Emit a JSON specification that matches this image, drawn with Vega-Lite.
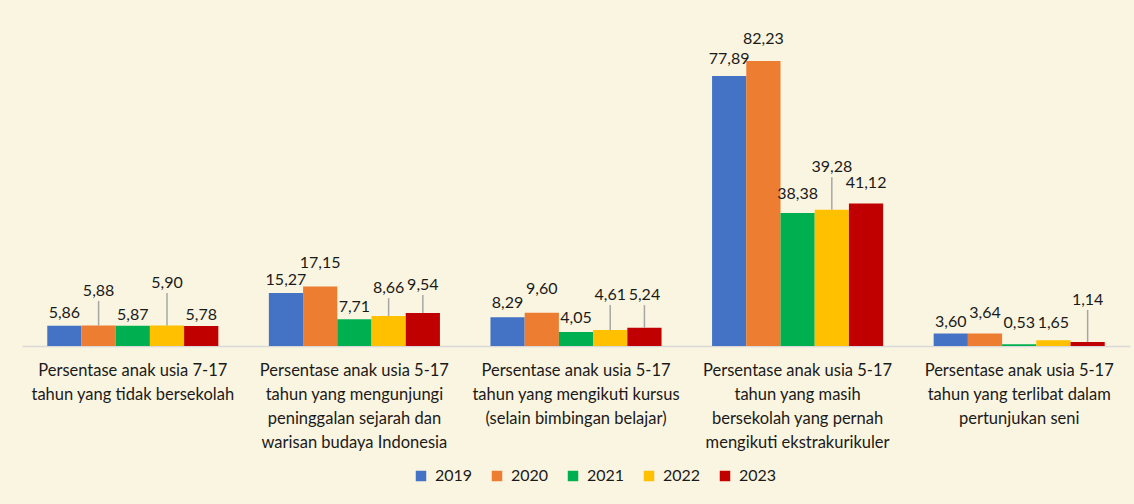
{
  "$schema": "https://vega.github.io/schema/vega-lite/v6.json",
  "width": 1108,
  "height": 312,
  "autosize": {"type": "none"},
  "padding": {"left": 22, "top": 34, "right": 4, "bottom": 158},
  "background": "#FAF5E0",
  "config": {
    "view": {"stroke": null},
    "font": "Lato",
    "locale": {"number": {"decimal": ",", "thousands": ".", "grouping": [3], "currency": ["Rp", ""]}}
  },
  "data": {
    "values": [
      {"kategori": "Persentase anak usia 7-17|tahun yang tidak bersekolah", "tahun": "2019", "nilai": 5.86, "label_y": 9.5, "leader": false},
      {"kategori": "Persentase anak usia 7-17|tahun yang tidak bersekolah", "tahun": "2020", "nilai": 5.88, "label_y": 15.9, "leader": true},
      {"kategori": "Persentase anak usia 7-17|tahun yang tidak bersekolah", "tahun": "2021", "nilai": 5.87, "label_y": 8.9, "leader": false},
      {"kategori": "Persentase anak usia 7-17|tahun yang tidak bersekolah", "tahun": "2022", "nilai": 5.90, "label_y": 18.2, "leader": true},
      {"kategori": "Persentase anak usia 7-17|tahun yang tidak bersekolah", "tahun": "2023", "nilai": 5.78, "label_y": 8.9, "leader": false},
      {"kategori": "Persentase anak usia 5-17|tahun yang mengunjungi|peninggalan sejarah dan|warisan budaya Indonesia", "tahun": "2019", "nilai": 15.27, "label_y": 19.0, "leader": false},
      {"kategori": "Persentase anak usia 5-17|tahun yang mengunjungi|peninggalan sejarah dan|warisan budaya Indonesia", "tahun": "2020", "nilai": 17.15, "label_y": 23.9, "leader": false},
      {"kategori": "Persentase anak usia 5-17|tahun yang mengunjungi|peninggalan sejarah dan|warisan budaya Indonesia", "tahun": "2021", "nilai": 7.71, "label_y": 11.3, "leader": false},
      {"kategori": "Persentase anak usia 5-17|tahun yang mengunjungi|peninggalan sejarah dan|warisan budaya Indonesia", "tahun": "2022", "nilai": 8.66, "label_y": 16.7, "leader": true},
      {"kategori": "Persentase anak usia 5-17|tahun yang mengunjungi|peninggalan sejarah dan|warisan budaya Indonesia", "tahun": "2023", "nilai": 9.54, "label_y": 17.6, "leader": true},
      {"kategori": "Persentase anak usia 5-17|tahun yang mengikuti kursus|(selain bimbingan belajar)", "tahun": "2019", "nilai": 8.29, "label_y": 12.4, "leader": false},
      {"kategori": "Persentase anak usia 5-17|tahun yang mengikuti kursus|(selain bimbingan belajar)", "tahun": "2020", "nilai": 9.60, "label_y": 16.4, "leader": false},
      {"kategori": "Persentase anak usia 5-17|tahun yang mengikuti kursus|(selain bimbingan belajar)", "tahun": "2021", "nilai": 4.05, "label_y": 8.1, "leader": false},
      {"kategori": "Persentase anak usia 5-17|tahun yang mengikuti kursus|(selain bimbingan belajar)", "tahun": "2022", "nilai": 4.61, "label_y": 14.7, "leader": true},
      {"kategori": "Persentase anak usia 5-17|tahun yang mengikuti kursus|(selain bimbingan belajar)", "tahun": "2023", "nilai": 5.24, "label_y": 14.7, "leader": true},
      {"kategori": "Persentase anak usia 5-17|tahun yang masih|bersekolah yang pernah|mengikuti ekstrakurikuler", "tahun": "2019", "nilai": 77.89, "label_y": 82.8, "leader": false},
      {"kategori": "Persentase anak usia 5-17|tahun yang masih|bersekolah yang pernah|mengikuti ekstrakurikuler", "tahun": "2020", "nilai": 82.23, "label_y": 88.6, "leader": false},
      {"kategori": "Persentase anak usia 5-17|tahun yang masih|bersekolah yang pernah|mengikuti ekstrakurikuler", "tahun": "2021", "nilai": 38.38, "label_y": 43.9, "leader": false},
      {"kategori": "Persentase anak usia 5-17|tahun yang masih|bersekolah yang pernah|mengikuti ekstrakurikuler", "tahun": "2022", "nilai": 39.28, "label_y": 51.6, "leader": true},
      {"kategori": "Persentase anak usia 5-17|tahun yang masih|bersekolah yang pernah|mengikuti ekstrakurikuler", "tahun": "2023", "nilai": 41.12, "label_y": 47.0, "leader": false},
      {"kategori": "Persentase anak usia 5-17|tahun yang terlibat dalam|pertunjukan seni", "tahun": "2019", "nilai": 3.60, "label_y": 6.9, "leader": false},
      {"kategori": "Persentase anak usia 5-17|tahun yang terlibat dalam|pertunjukan seni", "tahun": "2020", "nilai": 3.64, "label_y": 9.5, "leader": false},
      {"kategori": "Persentase anak usia 5-17|tahun yang terlibat dalam|pertunjukan seni", "tahun": "2021", "nilai": 0.53, "label_y": 6.6, "leader": false},
      {"kategori": "Persentase anak usia 5-17|tahun yang terlibat dalam|pertunjukan seni", "tahun": "2022", "nilai": 1.65, "label_y": 6.6, "leader": false},
      {"kategori": "Persentase anak usia 5-17|tahun yang terlibat dalam|pertunjukan seni", "tahun": "2023", "nilai": 1.14, "label_y": 13.3, "leader": true}
    ]
  },
  "encoding": {
    "x": {
      "field": "kategori",
      "type": "nominal",
      "sort": null,
      "scale": {"paddingInner": 0.228, "paddingOuter": 0.114},
      "axis": {
        "title": null,
        "labelAngle": 0,
        "ticks": false,
        "domainColor": "#D9D9D9",
        "domainWidth": 1.5,
        "labelExpr": "split(datum.label, '|')",
        "labelFont": "Lato",
        "labelFontSize": 16.5,
        "labelColor": "#1a1a1a",
        "labelLineHeight": 24,
        "labelBaseline": "top",
        "labelPadding": 16,
        "labelLimit": 300
      }
    },
    "xOffset": {"field": "tahun", "type": "nominal", "sort": ["2019", "2020", "2021", "2022", "2023"]}
  },
  "layer": [
    {
      "mark": {"type": "bar"},
      "encoding": {
        "y": {"field": "nilai", "type": "quantitative", "scale": {"domain": [0, 90]}, "axis": null},
        "color": {
          "field": "tahun",
          "type": "nominal",
          "scale": {"domain": ["2019", "2020", "2021", "2022", "2023"], "range": ["#4472C4", "#ED7D31", "#00B050", "#FFC000", "#C00000"]},
          "legend": {
            "title": null,
            "orient": "none",
            "direction": "horizontal",
            "legendX": 391,
            "legendY": 434,
            "symbolType": "square",
            "symbolSize": 110,
            "symbolStrokeWidth": 0,
            "labelFont": "Lato",
            "labelFontSize": 16,
            "labelColor": "#1a1a1a",
            "labelOffset": 6,
            "columnPadding": 16
          }
        }
      }
    },
    {
      "transform": [
        {"filter": "datum.leader"},
        {"calculate": "datum.label_y - 2.9", "as": "leader_top"}
      ],
      "mark": {"type": "rule", "color": "#A6A6A6", "strokeWidth": 1.5},
      "encoding": {
        "y": {"field": "nilai", "type": "quantitative"},
        "y2": {"field": "leader_top"}
      }
    },
    {
      "mark": {"type": "text", "baseline": "middle", "align": "center", "font": "Lato", "fontSize": 16, "color": "#1a1a1a"},
      "encoding": {
        "y": {"field": "label_y", "type": "quantitative"},
        "text": {"field": "nilai", "type": "quantitative", "format": ".2f"}
      }
    }
  ]
}
